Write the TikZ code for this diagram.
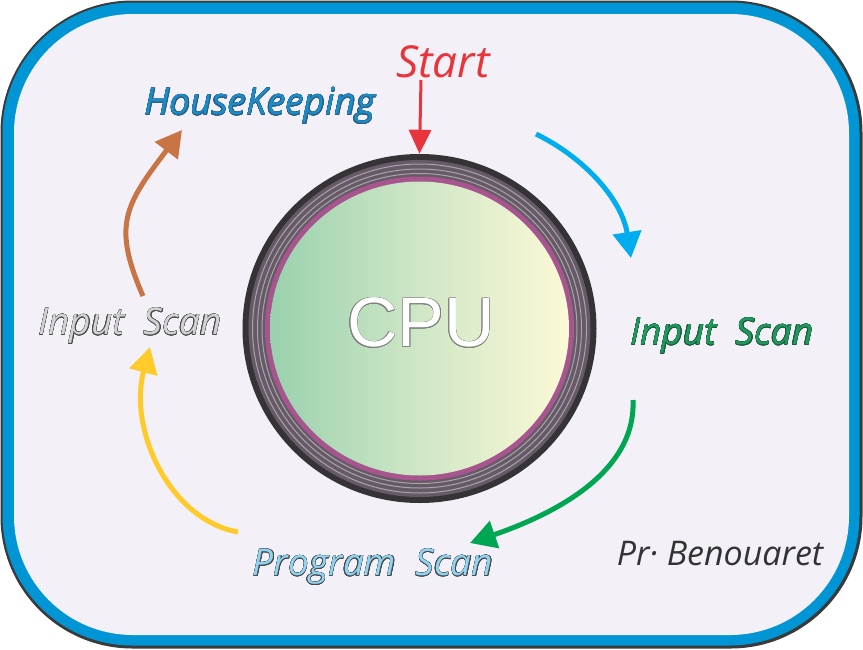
\documentclass[tikz,border=0pt]{standalone}
\usepackage{fontspec}
\setmainfont{Open Sans}
\newfontfamily\cpufont{Liberation Sans}
\usepackage{contour}
\contourlength{0.35pt}
\usetikzlibrary{arrows.meta,shapes.geometric}
\definecolor{frameblue}{HTML}{0096D6}
\definecolor{framedark}{HTML}{3A3A3A}
\definecolor{lav}{HTML}{F3F0F8}
\definecolor{ringdark}{HTML}{353335}
\definecolor{ringmid}{HTML}{675A68}
\definecolor{ringline}{HTML}{A9A4A8}
\definecolor{magring}{HTML}{A8558F}
\definecolor{gleft}{HTML}{9AD1AE}
\definecolor{gmid}{HTML}{CFE7C6}
\definecolor{gright}{HTML}{FCF9D6}
\definecolor{cred}{HTML}{E8343B}
\definecolor{cblue}{HTML}{00AEEF}
\definecolor{cgreen}{HTML}{00A651}
\definecolor{cyellow}{HTML}{FFCB2B}
\definecolor{corange}{HTML}{C97444}
\definecolor{hkblue}{HTML}{1A8CC8}
\definecolor{hkout}{HTML}{2E5E80}
\definecolor{isgreen}{HTML}{1F9A5E}
\definecolor{isgout}{HTML}{1E5A3C}
\definecolor{isgray}{HTML}{D2D2D2}
\definecolor{psblue}{HTML}{8FD3F2}
\definecolor{txtout}{HTML}{4A4A4A}
\definecolor{sig}{HTML}{333333}
\tikzset{
  lbl/.style={inner sep=0pt, font=\itshape\fontsize{37}{42}\selectfont},
  flow/.style={line width=5pt, -{Triangle[width=28pt,length=26pt]}},
}
\begin{document}
\begin{tikzpicture}[x=1pt,y=-1pt]
\useasboundingbox (0,0) rectangle (863,649);
% frame
\fill[framedark, rounded corners=132pt] (0.5,0.5) rectangle (862.5,648.5);
\fill[frameblue, rounded corners=130pt] (2.5,2.5) rectangle (859.5,645.5);
\fill[lav, rounded corners=119pt] (14,14) rectangle (849,635);
% CPU
\node[ellipse, minimum width=354pt, minimum height=349pt, inner sep=0pt] (cpu) at (419.5,328.5) {};
\fill[ringdark] (cpu.center) ellipse [x radius=177pt, y radius=174.5pt];
\fill[ringmid] (cpu.center) ellipse [x radius=171pt, y radius=168.5pt];
\draw[ringline, line width=1pt] (cpu.center) ellipse [x radius=167pt, y radius=164.5pt];
\draw[ringline, line width=1pt] (cpu.center) ellipse [x radius=162pt, y radius=159.5pt];
\draw[ringline, line width=1pt] (cpu.center) ellipse [x radius=157.5pt, y radius=155pt];
\draw[magring, line width=5pt] (cpu.center) ellipse [x radius=152pt, y radius=149.5pt];
\shade[left color=gleft, right color=gright, middle color=gmid] (cpu.center) ellipse [x radius=149.5pt, y radius=147pt];
\node[inner sep=0pt, font=\cpufont\fontsize{70}{70}\selectfont] (cputxt) at (421,323) {\contourlength{0.4pt}\color{white}\contour{gray}{CPU}};
% labels
\node[lbl, text=cred, font=\itshape\fontsize{44}{48}\selectfont] (start) at (443,62) {Start};
\node[lbl] (hk) at (260,106) {\color{hkblue}\contour{hkout}{HouseKeeping}};
\node[lbl] (isr) at (722,336) {\color{isgreen}\contour{isgout}{Input\ \ Scan}};
\node[lbl] (isl) at (130,326) {\color{isgray}\contour{txtout}{Input\ \ Scan}};
\node[lbl] (ps) at (373,567) {\color{psblue}\contour{txtout}{Program\ \ Scan}};
\node[lbl, text=sig, font=\itshape\fontsize{34}{38}\selectfont] (sign) at (720,554) {Pr·\ Benouaret};
% arrow anchor points
\coordinate (s0) at (421,80);
\coordinate (b0) at (536,134);
\coordinate (b1) at (631,258);
\coordinate (g0) at (633,400);
\coordinate (g1) at (470,543);
\coordinate (y0) at (238,532);
\coordinate (y1) at (150,347);
\coordinate (o0) at (143,296);
\coordinate (o1) at (182,130);
% arrows
\draw[cred, line width=3pt, -{Triangle[width=22pt,length=24pt]}] (s0) -- (cpu.north);
\draw[flow, cblue] (b0) .. controls (585,158) and (622,200) .. (b1);
\draw[flow, cgreen] (g0) .. controls (636,470) and (560,512) .. (g1);
\draw[flow, cyellow] (y0) .. controls (170,520) and (128,430) .. (y1);
\draw[flow, corange] (o0) .. controls (112,225) and (125,205) .. (o1);
\end{tikzpicture}
\end{document}
